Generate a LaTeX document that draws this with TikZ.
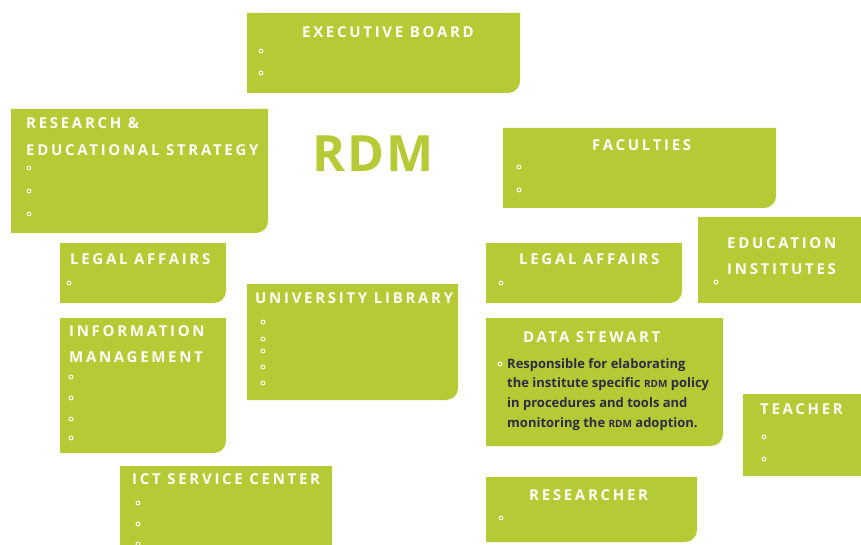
\documentclass[tikz,border=0pt]{standalone}
\usepackage{fontspec}
\setmainfont{Open Sans}
\newfontfamily\titlefamily[LetterSpace=18]{Open Sans}
\newfontfamily\rdmfamily[LetterSpace=4]{Open Sans}
\definecolor{rdmgreen}{RGB}{181,202,52}
\definecolor{bodyink}{RGB}{46,44,66}
\newcommand{\rdmbox}[5]{%
  \fill[rdmgreen] (#2,#3) -- (#4,#3) -- (#4,#5-12) arc[start angle=0,end angle=90,radius=12] -- (#2,#5) -- cycle;
  \coordinate (#1) at (#2,#3);}
\newcommand{\bul}[2]{\draw[bulletring] (#1,#2) circle[radius=2];}
\newcommand{\abbr}[1]{{\fontsize{10}{10}\selectfont #1}}
\tikzset{
  boxtitle/.style={anchor=base west,inner sep=0pt,text=white,align=left,
    font=\titlefamily\fontsize{15}{26.5}\selectfont\bfseries},
  bulletring/.style={draw=white,line width=0.9pt},
  stewardtext/.style={anchor=base west,inner sep=0pt,text=bodyink,align=left,
    font=\fontsize{13}{19.7}\selectfont\bfseries}
}
\begin{document}
\begin{tikzpicture}[x=1pt,y=-1pt]
\clip (0,0) rectangle (861,545);

\rdmbox{exec}{247}{13}{520}{93}
\rdmbox{strategy}{11}{109}{268}{233}
\rdmbox{faculties}{503}{128}{776}{208}
\rdmbox{legalL}{60}{243}{226}{303}
\rdmbox{legalR}{486}{243}{682}{303}
\rdmbox{eduinst}{698}{217}{880}{303}
\rdmbox{infomgmt}{60}{318}{226}{453}
\rdmbox{unilib}{247}{284}{458}{400}
\rdmbox{steward}{486}{318}{723}{446}
\rdmbox{teacher}{743}{394}{880}{476}
\rdmbox{ict}{120}{466}{332}{570}
\rdmbox{researcher}{486}{477}{697}{542}

\node[anchor=base west,inner sep=0pt,text=rdmgreen,font=\rdmfamily\fontsize{50}{50}\selectfont\bfseries] (rdm) at (312,172) {RDM};

\node[boxtitle] (exectitle) at (302,38) {EXECUTIVE BOARD};
\node[boxtitle] (strategytitle) at (26,155.5) {RESEARCH \&\\EDUCATIONAL STRATEGY};
\node[boxtitle] (facultiestitle) at (592,150.5) {FACULTIES};
\node[boxtitle] (legalLtitle) at (70,264.5) {LEGAL AFFAIRS};
\node[boxtitle] (legalRtitle) at (519,264.5) {LEGAL AFFAIRS};
\node[boxtitle] (eduinsttitle) at (727,274.5) {EDUCATION\\INSTITUTES};
\node[boxtitle] (infomgmttitle) at (69,362.5) {INFORMATION\\MANAGEMENT};
\node[boxtitle] (unilibtitle) at (255,303.5) {UNIVERSITY LIBRARY};
\node[boxtitle] (stewardtitle) at (523,342.5) {DATA STEWART};
\node[boxtitle] (teachertitle) at (760,414.5) {TEACHER};
\node[boxtitle] (icttitle) at (132,484.5) {ICT SERVICE CENTER};
\node[boxtitle] (researchertitle) at (529,500.5) {RESEARCHER};

\node[stewardtext] (stewardbody) at (507,427.1) {Responsible for elaborating\\the institute specific \abbr{RDM} policy\\in procedures and tools and\\monitoring the \abbr{RDM} adoption.};

\bul{261}{51} \bul{261}{73}
\bul{29}{168} \bul{29}{191} \bul{29}{214}
\bul{519}{167} \bul{519}{190}
\bul{69}{283}
\bul{501}{283}
\bul{716}{282}
\bul{71}{377} \bul{71}{398} \bul{71}{419} \bul{71}{438}
\bul{263}{322} \bul{263}{339} \bul{263}{351} \bul{263}{367} \bul{263}{383}
\bul{500}{364}
\bul{764}{437} \bul{764}{459}
\bul{138}{503} \bul{138}{524} \bul{138}{544}
\bul{501}{518}

\end{tikzpicture}
\end{document}
